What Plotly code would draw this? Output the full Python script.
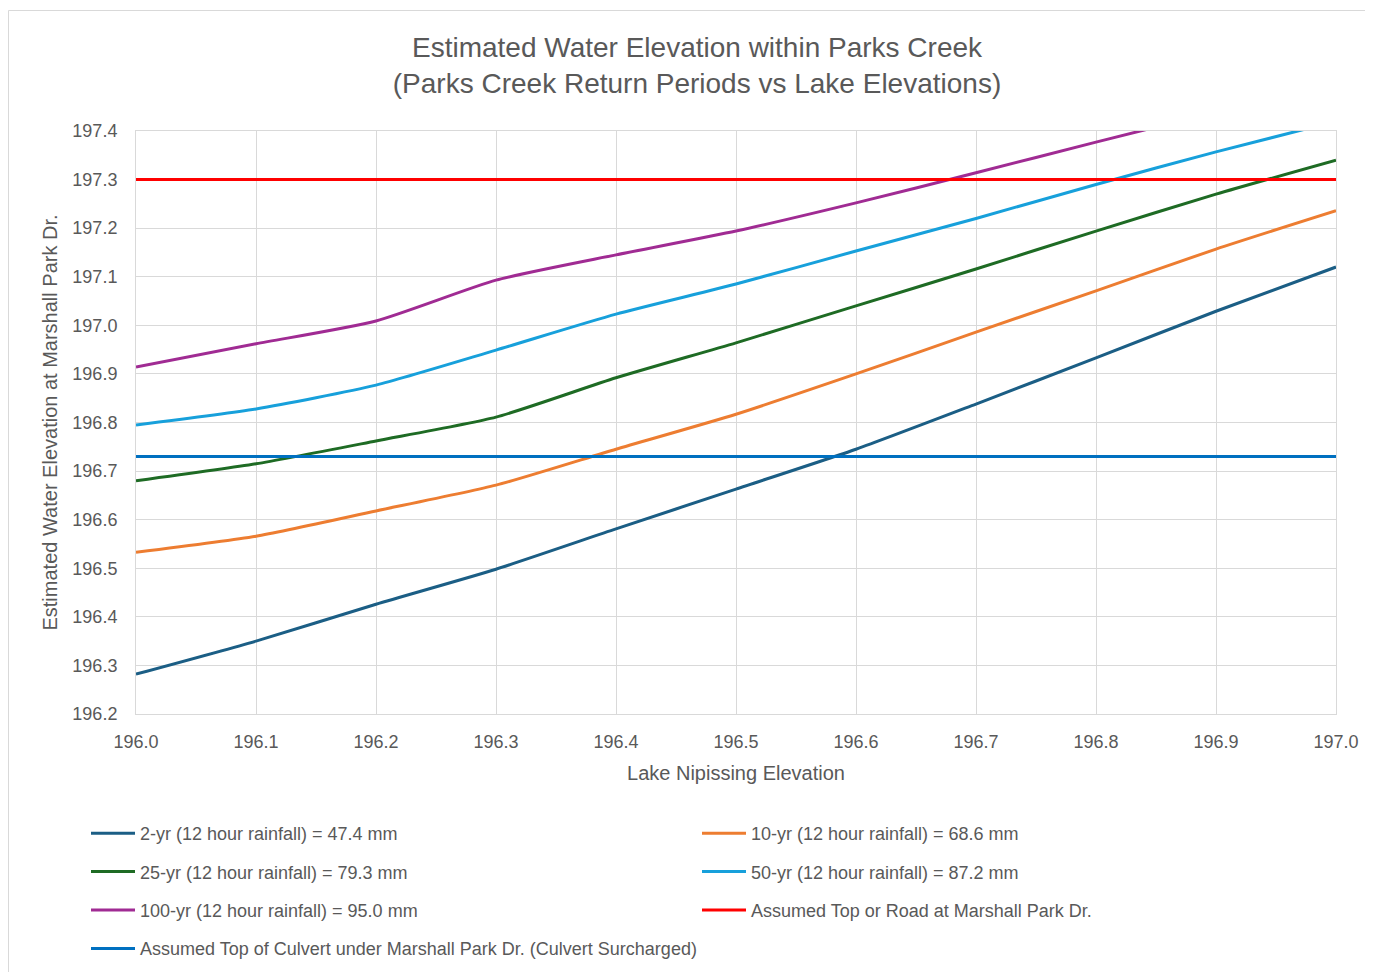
import plotly.graph_objects as go

lake = [196.0, 196.1, 196.2, 196.3, 196.4, 196.5, 196.6, 196.7, 196.8, 196.9, 197.0]
yr2 = [196.282, 196.350, 196.426, 196.498, 196.581, 196.663, 196.745, 196.838, 196.933, 197.029, 197.120]
yr10 = [196.533, 196.566, 196.618, 196.671, 196.745, 196.817, 196.900, 196.986, 197.071, 197.157, 197.236]
yr25 = [196.680, 196.715, 196.762, 196.811, 196.892, 196.964, 197.040, 197.116, 197.194, 197.270, 197.340]
yr50 = [196.795, 196.828, 196.877, 196.949, 197.023, 197.085, 197.153, 197.220, 197.290, 197.357, 197.420]
yr100 = [196.914, 196.962, 197.009, 197.093, 197.145, 197.194, 197.252, 197.314, 197.377, 197.439, 197.500]
road = [197.3] * len(lake)
culvert = [196.73] * len(lake)

names = [
    "2-yr (12 hour rainfall) = 47.4 mm",
    "10-yr (12 hour rainfall) = 68.6 mm",
    "25-yr (12 hour rainfall) = 79.3 mm",
    "50-yr (12 hour rainfall) = 87.2 mm",
    "100-yr (12 hour rainfall) = 95.0 mm",
    "Assumed Top or Road at Marshall Park Dr.",
    "Assumed Top of Culvert under Marshall Park Dr. (Culvert Surcharged)",
]
series = [yr2, yr10, yr25, yr50, yr100, road, culvert]
colors = ["#1B5E85", "#ED7D31", "#1E6B24", "#17A0DB", "#A02B93", "#FF0000", "#0070C0"]
legends = ["legend", "legend2", "legend", "legend2", "legend", "legend2", "legend"]

fig = go.Figure()
for i, (n, s, c, lg) in enumerate(zip(names, series, colors, legends)):
    fig.add_trace(go.Scatter(
        x=lake, y=s, name=n, mode="lines",
        line=dict(color=c, width=3, shape="spline", smoothing=0.6),
        legend=lg, legendgroup=f"g{i}",
    ))

# page body adds an 8px offset; figure is sized to compensate
OFF = 8
W, H = 1373 - OFF, 972 - OFF
L, R, T, B = 136, 1336, 131, 714  # plot area in reference pixels
def px(x):
    return (x - L) / (R - L)
def py(y):
    return (B - y) / (B - T)

font_color = "#595959"
fig.update_layout(
    width=W, height=H,
    margin=dict(l=L - OFF, r=(1373 - R), t=T - OFF, b=(972 - B), autoexpand=False),
    paper_bgcolor="white", plot_bgcolor="white",
    font=dict(family="Liberation Sans, Arial, sans-serif", color=font_color, size=18),
    title=dict(
        text="Estimated Water Elevation within Parks Creek<br>(Parks Creek Return Periods vs Lake Elevations)",
        x=px(697), xref="paper", xanchor="center",
        y=1 - (57 - OFF) / H, yref="container", yanchor="middle",
        font=dict(size=28, color=font_color),
    ),
    xaxis=dict(
        range=[196.0, 197.0], dtick=0.1, tickformat=".1f",
        showgrid=True, gridcolor="#D9D9D9", gridwidth=1,
        showline=True, linecolor="#D9D9D9", mirror=True,
        zeroline=False, ticks="", ticklabelstandoff=11,
        tickfont=dict(size=18, color=font_color),
        title=dict(text="Lake Nipissing Elevation", font=dict(size=20, color=font_color), standoff=15),
    ),
    yaxis=dict(
        range=[196.2, 197.4], dtick=0.1, tickformat=".1f",
        showgrid=True, gridcolor="#D9D9D9", gridwidth=1,
        showline=True, linecolor="#D9D9D9", mirror=True,
        zeroline=False, ticks="", ticklabelstandoff=14,
        tickfont=dict(size=18, color=font_color),
        title=dict(text="Estimated Water Elevation at Marshall Park Dr.", font=dict(size=20, color=font_color), standoff=9),
    ),
    legend=dict(
        x=px(86), y=py(815), xanchor="left", yanchor="top",
        orientation="v", tracegroupgap=12, itemwidth=44,
        font=dict(size=18, color=font_color), bgcolor="rgba(0,0,0,0)",
    ),
    legend2=dict(
        x=px(697), y=py(815), xanchor="left", yanchor="top",
        orientation="v", tracegroupgap=12, itemwidth=44,
        font=dict(size=18, color=font_color), bgcolor="rgba(0,0,0,0)",
    ),
    shapes=[dict(
        type="rect", xref="paper", yref="paper",
        x0=px(8.5), x1=px(1390), y0=py(990), y1=py(10.5),
        line=dict(color="#D9D9D9", width=1), fillcolor="rgba(0,0,0,0)", layer="below",
    )],
)

fig.write_html("out.html")
